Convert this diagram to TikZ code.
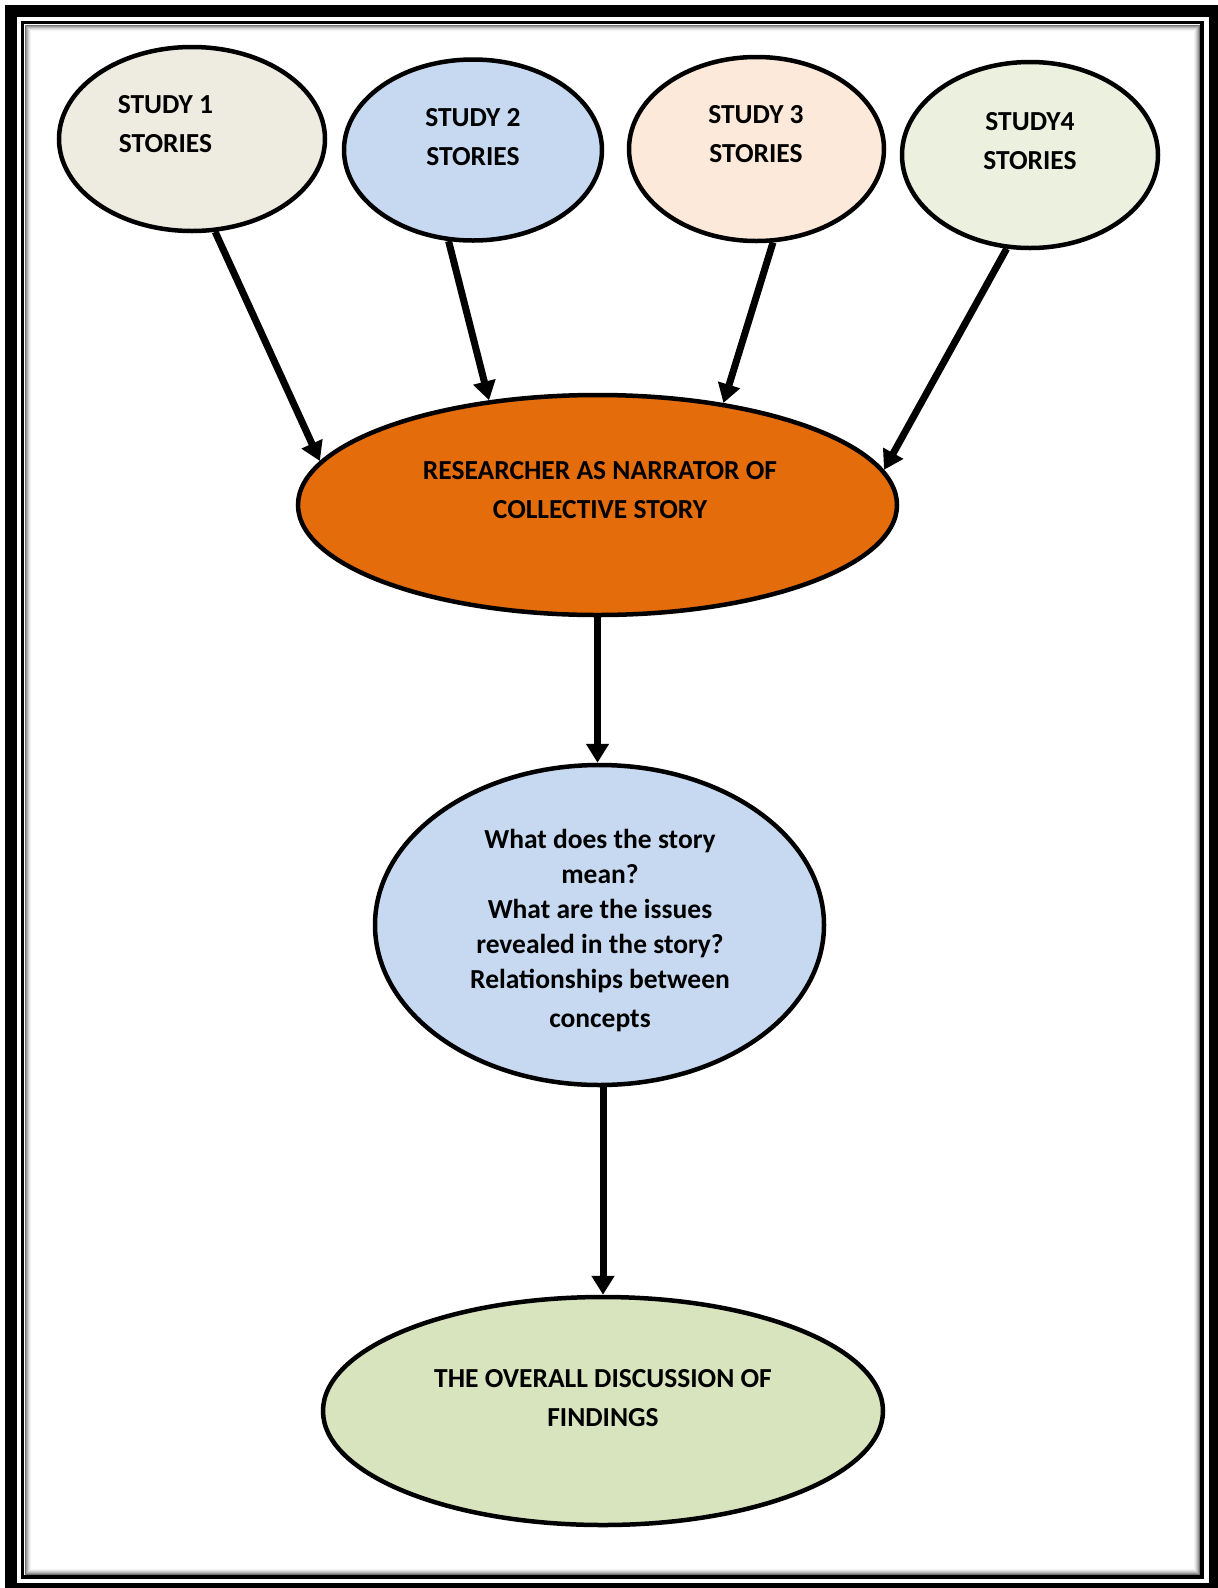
\documentclass[tikz,border=0pt]{standalone}
\usepackage{fontspec}
\setmainfont{Carlito}
\usetikzlibrary{arrows.meta,shapes.geometric}
\definecolor{cOne}{HTML}{EEECE1}
\definecolor{cTwo}{HTML}{C6D9F1}
\definecolor{cThree}{HTML}{FDE9D9}
\definecolor{cFour}{HTML}{EBF1DE}
\definecolor{cOrange}{HTML}{E46C0A}
\definecolor{cQuest}{HTML}{C6D9F1}
\definecolor{cFinal}{HTML}{D7E4BD}
\newcommand\dgfont{\fontsize{27.5}{39}\selectfont\bfseries}
\newcommand\dgqfont{\fontsize{27.5}{35}\selectfont\bfseries}
\begin{document}
\begin{tikzpicture}[x=1pt,y=-1pt,
  ell/.style={draw=black, ellipse, line width=4.5pt, inner sep=0pt},
  txt/.style={anchor=base, inner sep=0pt, font=\dgfont, text=black},
  qtxt/.style={anchor=base, inner sep=0pt, font=\dgqfont, text=black},
  arr/.style={line width=7pt, -{Triangle[width=22pt,length=19pt]}}]
\useasboundingbox (0,0) rectangle (1218,1588);
% frame
\fill[black] (5,5) rectangle (1218,1588);
\fill[white] (17,17) rectangle (1209,1583);
\draw[line width=3.5pt] (22.5,22.5) rectangle (1202,1577);
\foreach \o/\g in {2.75/55,3.75/40,4.75/28,5.75/18,6.75/10,7.75/5}
  \draw[black!\g, line width=1.05pt] ({22.5+\o},{22.5+\o}) rectangle ({1202-\o},{1577-\o});
% ellipses
\node[ell, fill=cOne, minimum width=266pt, minimum height=184pt] (s1) at (192,139) {};
\node[ell, fill=cTwo, minimum width=258pt, minimum height=181pt] (s2) at (473,150) {};
\node[ell, fill=cThree, minimum width=255pt, minimum height=184pt] (s3) at (756.5,149) {};
\node[ell, fill=cFour, minimum width=256pt, minimum height=186pt] (s4) at (1030,155) {};
\node[ell, fill=cOrange, minimum width=599pt, minimum height=220pt] (r) at (597.5,505) {};
\node[ell, fill=cQuest, minimum width=449pt, minimum height=320pt] (q) at (599.5,925) {};
\node[ell, fill=cFinal, minimum width=560pt, minimum height=228pt] (f) at (603,1411) {};
% texts
\node[txt] (t1) at (165.5,113) {\begin{tabular}[t]{@{}c@{}}STUDY 1\\STORIES\end{tabular}};
\node[txt] (t2) at (473,126) {\begin{tabular}[t]{@{}c@{}}STUDY 2\\STORIES\end{tabular}};
\node[txt] (t3) at (756,123) {\begin{tabular}[t]{@{}c@{}}STUDY 3\\STORIES\end{tabular}};
\node[txt] (t4) at (1030,130) {\begin{tabular}[t]{@{}c@{}}STUDY4\\STORIES\end{tabular}};
\node[txt] (tr) at (600,479) {\begin{tabular}[t]{@{}c@{}}RESEARCHER AS NARRATOR OF\\COLLECTIVE STORY\end{tabular}};
\node[qtxt] (tq) at (600,848) {\begin{tabular}[t]{@{}c@{}}What does the story\\mean?\\What are the issues\\revealed in the story?\\Relationships between\\[4pt]concepts\end{tabular}};
\node[txt] (tf) at (603,1387) {\begin{tabular}[t]{@{}c@{}}THE OVERALL DISCUSSION OF\\FINDINGS\end{tabular}};
% arrows
\draw[arr] (s1.-76) -- (r.171.5);
\draw[arr] (s2.-105.2) -- (r.136.3);
\draw[arr] (s3.-80.8) -- (r.39.9);
\draw[arr] (s4.-104.6) -- (r.7.2);
\draw[arr] (r.south) -- (r.south |- q.north);
\draw[arr] (f.north |- q.south) -- (f.north);
\end{tikzpicture}
\end{document}
